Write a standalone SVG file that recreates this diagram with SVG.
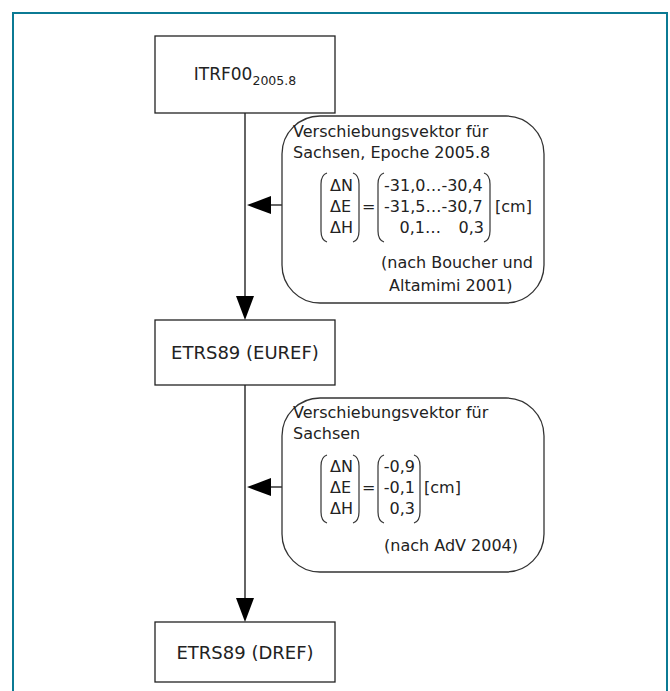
<svg xmlns="http://www.w3.org/2000/svg" width="670" height="691" viewBox="0 0 670 691">
<style>
text{font-family:"DejaVu Sans",Verdana,sans-serif;font-size:16px;fill:#222}
.big{font-size:18px}
.box{fill:#fff;stroke:#222;stroke-width:1.3}
.rbox{fill:#fff;stroke:#333;stroke-width:1.3}
.ln{stroke:#111;stroke-width:1.3;fill:none}
.par{stroke:#333;stroke-width:1.2;fill:none}
.ah{fill:#000}
</style>
<rect x="0" y="0" width="670" height="691" fill="#fff"/>
<rect x="13" y="13" width="654" height="700" fill="none" stroke="#0b7a94" stroke-width="2"/>
<g id="connectors">
<line class="ln" x1="245" y1="113" x2="245" y2="300"/>
<polygon class="ah" points="245,320 236,296 254,296"/>
<line class="ln" x1="268" y1="205" x2="282" y2="205"/>
<polygon class="ah" points="247,205 271,196 271,214"/>
<line class="ln" x1="245" y1="385" x2="245" y2="600"/>
<polygon class="ah" points="245,622 236,598 254,598"/>
<line class="ln" x1="268" y1="487" x2="282" y2="487"/>
<polygon class="ah" points="247,487 271,478 271,496"/>
</g>
<g id="itrf00">
<rect class="box" x="155" y="36" width="180" height="77"/>
<text x="245" y="80" text-anchor="middle" style="font-size:17px">ITRF00<tspan style="font-size:12.5px" dy="5">2005.8</tspan></text>
</g>
<g id="vec1">
<rect class="rbox" x="282" y="116" width="262" height="187" rx="38"/>
<text x="293" y="137">Verschiebungsvektor für</text>
<text x="293" y="158">Sachsen, Epoche 2005.8</text>
<path class="par" d="M327,173 Q321,175 321,184 L321,231 Q321,240 327,242"/>
<path class="par" d="M353,173 Q359,175 359,184 L359,231 Q359,240 353,242"/>
<text x="330" y="191">ΔN</text>
<text x="330" y="212">ΔE</text>
<text x="330" y="233">ΔH</text>
<text x="362" y="212">=</text>
<path class="par" d="M384,173 Q378,175 378,184 L378,231 Q378,240 384,242"/>
<path class="par" d="M484,173 Q490,175 490,184 L490,231 Q490,240 484,242"/>
<text x="384" y="191">-31,0…-30,4</text>
<text x="384" y="212">-31,5…-30,7</text>
<text x="441" y="233" text-anchor="end">0,1…</text>
<text x="484" y="233" text-anchor="end">0,3</text>
<text x="495" y="212">[cm]</text>
<text x="381" y="268">(nach Boucher und</text>
<text x="389" y="291">Altamimi 2001)</text>
</g>
<g id="etrs89euref">
<rect class="box" x="155" y="320" width="180" height="65"/>
<text class="big" x="245" y="359" text-anchor="middle">ETRS89 (EUREF)</text>
</g>
<g id="vec2">
<rect class="rbox" x="282" y="398" width="262" height="174" rx="38"/>
<text x="293" y="418">Verschiebungsvektor für</text>
<text x="293" y="439">Sachsen</text>
<path class="par" d="M327,455 Q321,457 321,466 L321,512 Q321,521 327,523"/>
<path class="par" d="M353,455 Q359,457 359,466 L359,512 Q359,521 353,523"/>
<text x="330" y="472">ΔN</text>
<text x="330" y="493">ΔE</text>
<text x="330" y="514">ΔH</text>
<text x="362" y="493">=</text>
<path class="par" d="M384,455 Q378,457 378,466 L378,512 Q378,521 384,523"/>
<path class="par" d="M414,455 Q420,457 420,466 L420,512 Q420,521 414,523"/>
<text x="415" y="472" text-anchor="end">-0,9</text>
<text x="415" y="493" text-anchor="end">-0,1</text>
<text x="415" y="514" text-anchor="end">0,3</text>
<text x="424" y="493">[cm]</text>
<text x="384" y="551">(nach AdV 2004)</text>
</g>
<g id="etrs89dref">
<rect class="box" x="155" y="622" width="180" height="60"/>
<text class="big" x="245" y="659" text-anchor="middle">ETRS89 (DREF)</text>
</g>
</svg>
